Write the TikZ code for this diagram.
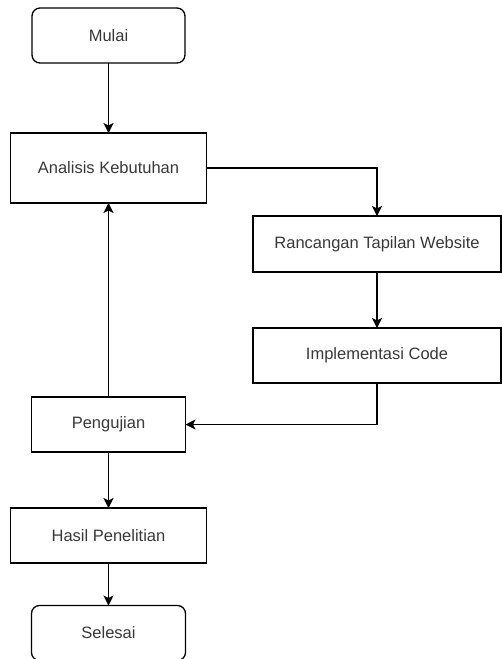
\documentclass[tikz,border=0pt]{standalone}
\usepackage{fontspec}
\setmainfont{Liberation Sans}
\usetikzlibrary{arrows.meta}
\begin{document}
\begin{tikzpicture}[x=1pt,y=-1pt,
  box/.style={draw=black, line width=1.3pt, inner sep=0pt, outer sep=0pt,
    text=black!78, font=\fontsize{16.5}{20}\selectfont},
  term/.style={box, rounded corners=8pt},
  arr/.style={draw=black, line width=1.3pt, -{Stealth[length=10pt,width=10pt,inset=2.5pt]}}]
\useasboundingbox (0,0) rectangle (502,659);
\node[term, minimum width=153pt, minimum height=55pt] (mulai) at (108.5,35.5) {Mulai};
\node[box, minimum width=196pt, minimum height=70pt] (analisis) at (108.5,168) {Analisis Kebutuhan};
\node[box, minimum width=248pt, minimum height=56pt] (rancangan) at (377,244) {Rancangan Tapilan Website};
\node[box, minimum width=248pt, minimum height=55pt] (impl) at (377,355.5) {Implementasi Code};
\node[box, minimum width=154pt, minimum height=55pt] (uji) at (108.5,424.5) {Pengujian};
\node[box, minimum width=196pt, minimum height=55pt] (hasil) at (108.5,535.5) {Hasil Penelitian};
\node[term, minimum width=154pt, minimum height=55pt] (selesai) at (108.5,633) {Selesai};
\draw[arr] (mulai) -- (analisis);
\draw[arr] (analisis.east) -| (rancangan.north);
\draw[arr] (rancangan) -- (impl);
\draw[arr] (impl.south) |- (uji.east);
\draw[arr] (uji) -- (analisis);
\draw[arr] (uji) -- (hasil);
\draw[arr] (hasil) -- (selesai);
\end{tikzpicture}
\end{document}
